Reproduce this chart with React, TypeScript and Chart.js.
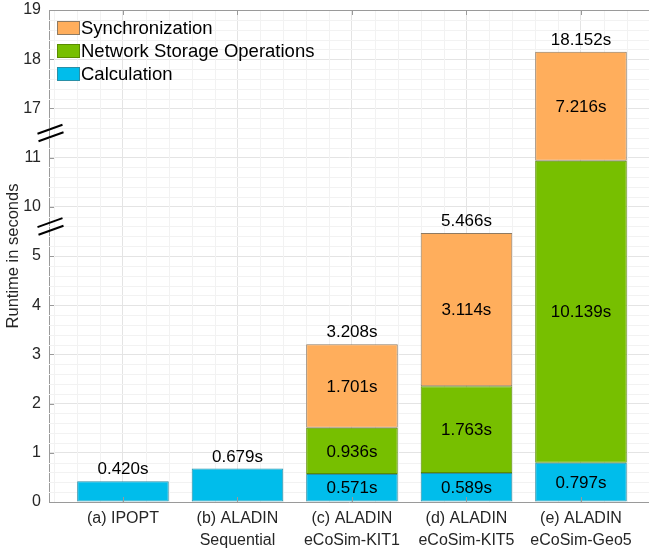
import React, { useEffect, useRef } from "react";
import { Chart, registerables } from "chart.js";

Chart.register(...registerables);

// ---------- data ----------
const categories: string[][] = [
  ["(a) IPOPT"],
  ["(b) ALADIN", "Sequential"],
  ["(c) ALADIN", "eCoSim-KIT1"],
  ["(d) ALADIN", "eCoSim-KIT5"],
  ["(e) ALADIN", "eCoSim-Geo5"],
];
const calculation = [0.42, 0.679, 0.571, 0.589, 0.797];
const networkStorage = [0, 0, 0.936, 1.763, 10.139];
const synchronization = [0, 0, 1.701, 3.114, 7.216];
const totals = [0.42, 0.679, 3.208, 5.466, 18.152];
const yTickLabels = ["0", "1", "2", "3", "4", "5", "10", "11", "17", "18", "19"];
const seriesNames = ["Calculation", "Network Storage Operations", "Synchronization"];

// axis breaks (data units): from `at`, `skip` units are cut out
const axisBreaks = [
  { at: 5.5, skip: 4 },
  { at: 11.5, skip: 5 },
];
const breakMarkPositions = [5.6, 7.5]; // display units

const FONT = '"Liberation Sans", Arial, Helvetica, sans-serif';
const TEXT = "#262626";
const AXIS = "#9a9a9a";
const MAJOR_GRID = "#e4e4e4";
const MINOR_GRID = "#f2f2f2";
const fills = ["#00BDEB", "#77BF00", "#FFAE5C"];
const edges = ["#2A8FA6", "#5A8C00", "#8E7A62"];

function toDisplay(v: number): number {
  let d = v;
  for (const b of axisBreaks) {
    if (v >= b.at + b.skip) d -= b.skip;
    else if (v > b.at) d -= v - b.at;
  }
  return d;
}

const seriesValues = [calculation, networkStorage, synchronization];

function buildDatasets() {
  return seriesValues.map((vals, s) => {
    const data = vals.map((v, i) => {
      let lo = 0;
      for (let k = 0; k < s; k++) lo += seriesValues[k][i];
      return { x: i + 1, y: v ? [toDisplay(lo), toDisplay(lo + v)] : null };
    });
    return {
      label: seriesNames[s],
      data,
      backgroundColor: fills[s],
      borderColor: edges[s],
      borderWidth: 1,
      borderSkipped: false,
    };
  });
}

const decorPlugin = {
  id: "decor",
  beforeDatasetsDraw(chart: any) {
    const { ctx, chartArea: a, scales } = chart;
    const x = scales.x;
    const y = scales.y;
    ctx.save();
    ctx.strokeStyle = MINOR_GRID;
    ctx.lineWidth = 1;
    for (let k = 1; k < 50; k++) {
      const v = k * 0.2;
      if (Math.abs(v - Math.round(v)) < 1e-6) continue;
      const py = Math.round(y.getPixelForValue(v)) + 0.5;
      ctx.beginPath();
      ctx.moveTo(a.left, py);
      ctx.lineTo(a.right, py);
      ctx.stroke();
    }
    for (let k = 1; k < 40; k++) {
      const v = k * 0.2;
      if (Math.abs(v - Math.round(v)) < 1e-6) continue;
      if (v < x.min || v > x.max) continue;
      const px = Math.round(x.getPixelForValue(v)) + 0.5;
      ctx.beginPath();
      ctx.moveTo(px, a.top);
      ctx.lineTo(px, a.bottom);
      ctx.stroke();
    }
    ctx.restore();
  },
  afterDatasetsDraw(chart: any) {
    const { ctx, chartArea: a, scales } = chart;
    const x = scales.x;
    const y = scales.y;
    ctx.save();
    // top border
    ctx.strokeStyle = AXIS;
    ctx.lineWidth = 1;
    ctx.beginPath();
    ctx.moveTo(a.left, a.top + 0.5);
    ctx.lineTo(a.right, a.top + 0.5);
    ctx.stroke();
    // inward ticks
    for (let v = 0; v <= 10; v++) {
      const py = Math.round(y.getPixelForValue(v)) + 0.5;
      ctx.beginPath();
      ctx.moveTo(a.left, py);
      ctx.lineTo(a.left + 5, py);
      ctx.stroke();
    }
    for (let i = 1; i <= categories.length; i++) {
      const px = Math.round(x.getPixelForValue(i)) + 0.5;
      ctx.beginPath();
      ctx.moveTo(px, a.bottom);
      ctx.lineTo(px, a.bottom - 5);
      ctx.moveTo(px, a.top);
      ctx.lineTo(px, a.top + 5);
      ctx.stroke();
    }

    // labels
    ctx.fillStyle = "#000";
    ctx.textAlign = "center";
    ctx.font = `17px ${FONT}`;
    const metas = chart.data.datasets.map((_: any, i: number) => chart.getDatasetMeta(i));
    for (let i = 0; i < categories.length; i++) {
      const multi = networkStorage[i] > 0 || synchronization[i] > 0;
      let topY = Infinity;
      let cx = x.getPixelForValue(i + 1);
      metas.forEach((m: any, s: number) => {
        const el = m.data[i];
        const val = seriesValues[s][i];
        if (!el || !val) return;
        topY = Math.min(topY, el.y, el.base);
        cx = el.x;
        if (multi) {
          ctx.textBaseline = "middle";
          ctx.fillText(val.toFixed(3) + "s", el.x, (el.y + el.base) / 2 + 1);
        }
      });
      ctx.textBaseline = "alphabetic";
      ctx.fillText(totals[i].toFixed(3) + "s", cx, topY - 7);
    }

    // legend
    ctx.font = `18.5px ${FONT}`;
    ctx.textAlign = "left";
    ctx.textBaseline = "middle";
    const order = [2, 1, 0];
    order.forEach((s, r) => {
      const bx = a.left + 8.5;
      const by = a.top + 11.5 + r * 23;
      ctx.fillStyle = fills[s];
      ctx.fillRect(bx, by, 22, 13);
      ctx.strokeStyle = edges[s];
      ctx.strokeRect(bx, by, 22, 13);
      ctx.fillStyle = "#000";
      ctx.fillText(seriesNames[s], bx + 23.5, by + 7.5);
    });

    // axis break marks
    ctx.strokeStyle = "#000";
    ctx.lineWidth = 2;
    for (const d of breakMarkPositions) {
      const yc = y.getPixelForValue(d);
      for (const off of [-3.8, 3.8]) {
        const cxm = a.left + 1 + (off > 0 ? 1 : 0);
        ctx.beginPath();
        ctx.moveTo(cxm - 12.5, yc + off + 4.5);
        ctx.lineTo(cxm + 12.5, yc + off - 4.5);
        ctx.stroke();
      }
    }
    ctx.restore();
  },
};

export default function App() {
  const ref = useRef<HTMLCanvasElement | null>(null);
  useEffect(() => {
    if (!ref.current) return;
    const chart = new Chart(ref.current, {
      type: "bar",
      data: { datasets: buildDatasets() as any },
      options: {
        animation: false,
        responsive: false,
        devicePixelRatio: 1,
        layout: { padding: { top: 10, right: 0, left: 0, bottom: 0 } },
        datasets: { bar: { grouped: false, barPercentage: 0.8, categoryPercentage: 1 } } as any,
        plugins: { legend: { display: false }, tooltip: { enabled: false } },
        scales: {
          x: {
            type: "linear",
            offset: false,
            min: 0.354,
            max: 5.594,
            afterFit: (s: any) => {
              s.height = 49;
              s.paddingLeft = 0;
              s.paddingRight = 0;
            },
            ticks: {
              stepSize: 1,
              includeBounds: false,
              autoSkip: false,
              maxRotation: 0,
              padding: 6,
              color: TEXT,
              font: { family: FONT, size: 16, lineHeight: 1.35 },
              callback: (v: any) => categories[Math.round(Number(v)) - 1] ?? "",
            } as any,
            grid: { color: MAJOR_GRID, drawTicks: false, offset: false },
            border: { color: AXIS },
          },
          y: {
            min: 0,
            max: 10,
            afterFit: (s: any) => {
              s.width = 49;
              s.paddingTop = 0;
              s.paddingBottom = 0;
            },
            ticks: {
              stepSize: 1,
              autoSkip: false,
              padding: 8,
              color: TEXT,
              font: { family: FONT, size: 16 },
              callback: (v: any) => yTickLabels[Math.round(Number(v))] ?? "",
            },
            grid: { color: MAJOR_GRID, drawTicks: false },
            border: { color: AXIS },
            title: {
              display: true,
              text: "Runtime in seconds",
              color: TEXT,
              font: { family: FONT, size: 16.5 },
              padding: { top: 4, bottom: 4 },
            },
          },
        },
      },
      plugins: [decorPlugin],
    });
    return () => chart.destroy();
  }, []);
  return (
    <div style={{ position: "fixed", left: 0, top: 0, width: 649, height: 551, background: "#fff" }}>
      <canvas ref={ref} width={649} height={551} style={{ display: "block" }} />
    </div>
  );
}
